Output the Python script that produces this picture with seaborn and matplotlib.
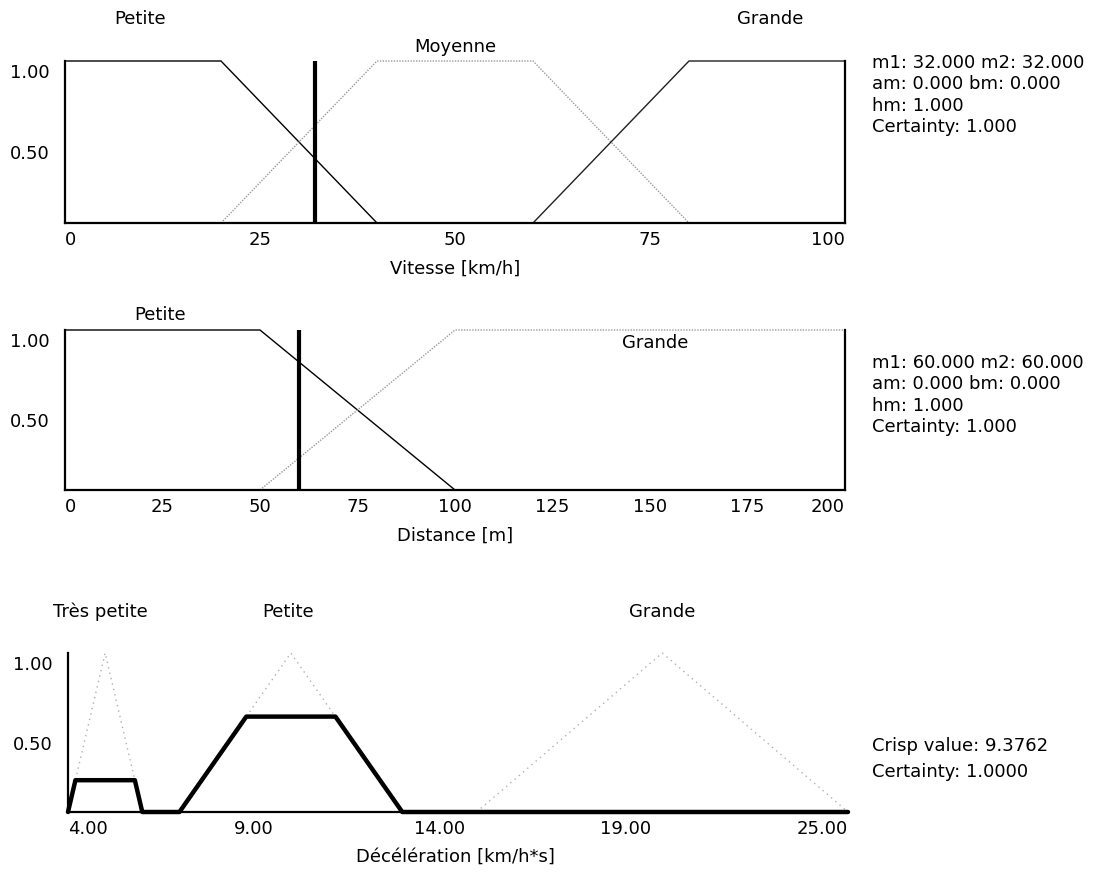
import numpy as np
import pandas as pd
import matplotlib
matplotlib.use("Agg")
import matplotlib.pyplot as plt
import matplotlib.transforms as mtrans
import seaborn as sns

# ---------------- data ----------------
# Vitesse (speed) fuzzy sets: trapezoids (a, b, c, d)
speed_names = ["Petite", "Moyenne", "Grande"]
speed_petite = [0, 0, 20, 40]
speed_moyenne = [20, 40, 60, 80]
speed_grande = [60, 80, 100, 100]
speed_crisp = 32
speed_ticks = [0, 25, 50, 75, 100]
speed_info = ["m1: 32.000 m2: 32.000", "am: 0.000 bm: 0.000", "hm: 1.000", "Certainty: 1.000"]

# Distance fuzzy sets
dist_names = ["Petite", "Grande"]
dist_petite = [0, 0, 50, 100]
dist_grande = [50, 100, 200, 200]
dist_crisp = 60
dist_ticks = [0, 25, 50, 75, 100, 125, 150, 175, 200]
dist_info = ["m1: 60.000 m2: 60.000", "am: 0.000 bm: 0.000", "hm: 1.000", "Certainty: 1.000"]

# Deceleration fuzzy sets: triangles (a, peak, c)
dec_names = ["Très petite", "Petite", "Grande"]
dec_tres_petite = [4, 5, 6]
dec_petite = [7, 10, 13]
dec_grande = [15, 20, 25]
dec_activation = [0.2, 0.6, 0.0]
dec_ticks = [4, 9, 14, 19, 25]
dec_tick_labels = ["4.00", "9.00", "14.00", "19.00", "25.00"]
dec_info = ["Crisp value: 9.3762", "Certainty: 1.0000"]

# ---------------- style ----------------
sns.set_style("white")
plt.rcParams["font.family"] = ["DejaVu Sans"]
plt.rcParams["text.color"] = "black"
plt.rcParams["xtick.color"] = "black"
plt.rcParams["ytick.color"] = "black"
plt.rcParams["axes.labelcolor"] = "black"
FS = 13

W, H = 1097, 872
fig = plt.figure(figsize=(W / 100, H / 100), dpi=100)


def fig_xy(x, y):
    return x / W, 1 - y / H


def make_ax(left, right, top, bottom):
    return fig.add_axes([left / W, 1 - bottom / H, (right - left) / W, (bottom - top) / H])


def style_ax(ax, xlim, ticks, labels, right_spine=True):
    ax.set_xlim(*xlim)
    ax.set_ylim(0, 1)
    ax.set_xticks(ticks)
    ax.set_xticklabels(labels, fontsize=FS, color="black")
    ax.set_yticks([0.5, 1.0])
    ax.set_yticklabels(["0.50", "1.00"], fontsize=FS, color="black")
    ax.tick_params(axis="both", length=0)
    ax.tick_params(axis="x", pad=6)
    ax.tick_params(axis="y", pad=11)
    ax.spines["top"].set_visible(False)
    ax.spines["right"].set_visible(right_spine)
    for s in ["left", "bottom", "right"]:
        ax.spines[s].set_color("black")
        ax.spines[s].set_linewidth(1.6)
    ax.set_facecolor("white")
    ax.grid(False)
    xl = ax.get_xticklabels()
    xl[0].set_ha("left")
    xl[-1].set_ha("right")
    off = mtrans.ScaledTranslation(0, -0.10, fig.dpi_scale_trans)
    for lab in ax.get_yticklabels():
        lab.set_transform(lab.get_transform() + off)


def trap_df(p):
    return pd.DataFrame({"x": [p[0], p[1], p[2], p[3]], "y": [0, 1, 1, 0]})


def draw(ax, df, color, ls, lw):
    sns.lineplot(data=df, x="x", y="y", ax=ax, sort=False, estimator=None,
                 color=color, linestyle=ls, linewidth=lw, clip_on=False)


def info(lines, x, y0, dy):
    for i, t in enumerate(lines):
        fx, fy = fig_xy(x, y0 + i * dy)
        fig.text(fx, fy, t, fontsize=FS, ha="left", va="center", color="black")


def label(x, y, t):
    fig.text(*fig_xy(x, y), t, fontsize=FS, ha="center", va="center", color="black")


# ---------------- panel 1 : Vitesse ----------------
ax1 = make_ax(65, 845, 61, 223)
draw(ax1, trap_df(speed_petite), "black", "-", 1.0)
draw(ax1, trap_df(speed_moyenne), "#9a9a9a", (0, (1, 1)), 1.0)
draw(ax1, trap_df(speed_grande), "#202020", "-", 1.0)
ax1.axvline(speed_crisp, ymin=0, ymax=1, color="black", linewidth=3)
style_ax(ax1, (0, 100), speed_ticks, [str(t) for t in speed_ticks])
ax1.set_xlabel("")
ax1.set_ylabel("")
label(455, 269, "Vitesse [km/h]")
label(140, 19, speed_names[0])
label(455, 47, speed_names[1])
label(770, 19, speed_names[2])
info(speed_info, 872, 63, 21.3)

# ---------------- panel 2 : Distance ----------------
ax2 = make_ax(65, 845, 330, 490)
draw(ax2, trap_df(dist_petite), "black", "-", 1.0)
draw(ax2, trap_df(dist_grande), "#9a9a9a", (0, (1, 1)), 1.0)
ax2.axvline(dist_crisp, ymin=0, ymax=1, color="black", linewidth=3)
style_ax(ax2, (0, 200), dist_ticks, [str(t) for t in dist_ticks])
ax2.set_xlabel("")
ax2.set_ylabel("")
label(455, 536, "Distance [m]")
label(160, 315, dist_names[0])
label(655, 343, dist_names[1])
info(dist_info, 872, 363, 21.3)

# ---------------- panel 3 : Décélération ----------------
ax3 = make_ax(68, 848, 653, 812)
tris = [dec_tres_petite, dec_petite, dec_grande]
for t in tris:
    df = pd.DataFrame({"x": t, "y": [0, 1, 0]})
    draw(ax3, df, "#b0b0b0", (0, (1, 3)), 1.0)

grid = np.linspace(4, 25, 4201)
agg = np.zeros_like(grid)
for t, h in zip(tris, dec_activation):
    mu = np.interp(grid, t, [0, 1, 0])
    agg = np.maximum(agg, np.minimum(mu, h))
sns.lineplot(x=grid, y=agg, ax=ax3, sort=False, estimator=None, color="black",
             linewidth=3.2, clip_on=False)
style_ax(ax3, (4, 25), dec_ticks, dec_tick_labels, right_spine=False)
ax3.set_xlabel("")
ax3.set_ylabel("")
label(455, 857, "Décélération [km/h*s]")
label(100, 612, dec_names[0])
label(288, 612, dec_names[1])
label(662, 612, dec_names[2])
info(dec_info, 872, 746, 26)

fig.savefig("out.png", dpi=100, facecolor="white")
